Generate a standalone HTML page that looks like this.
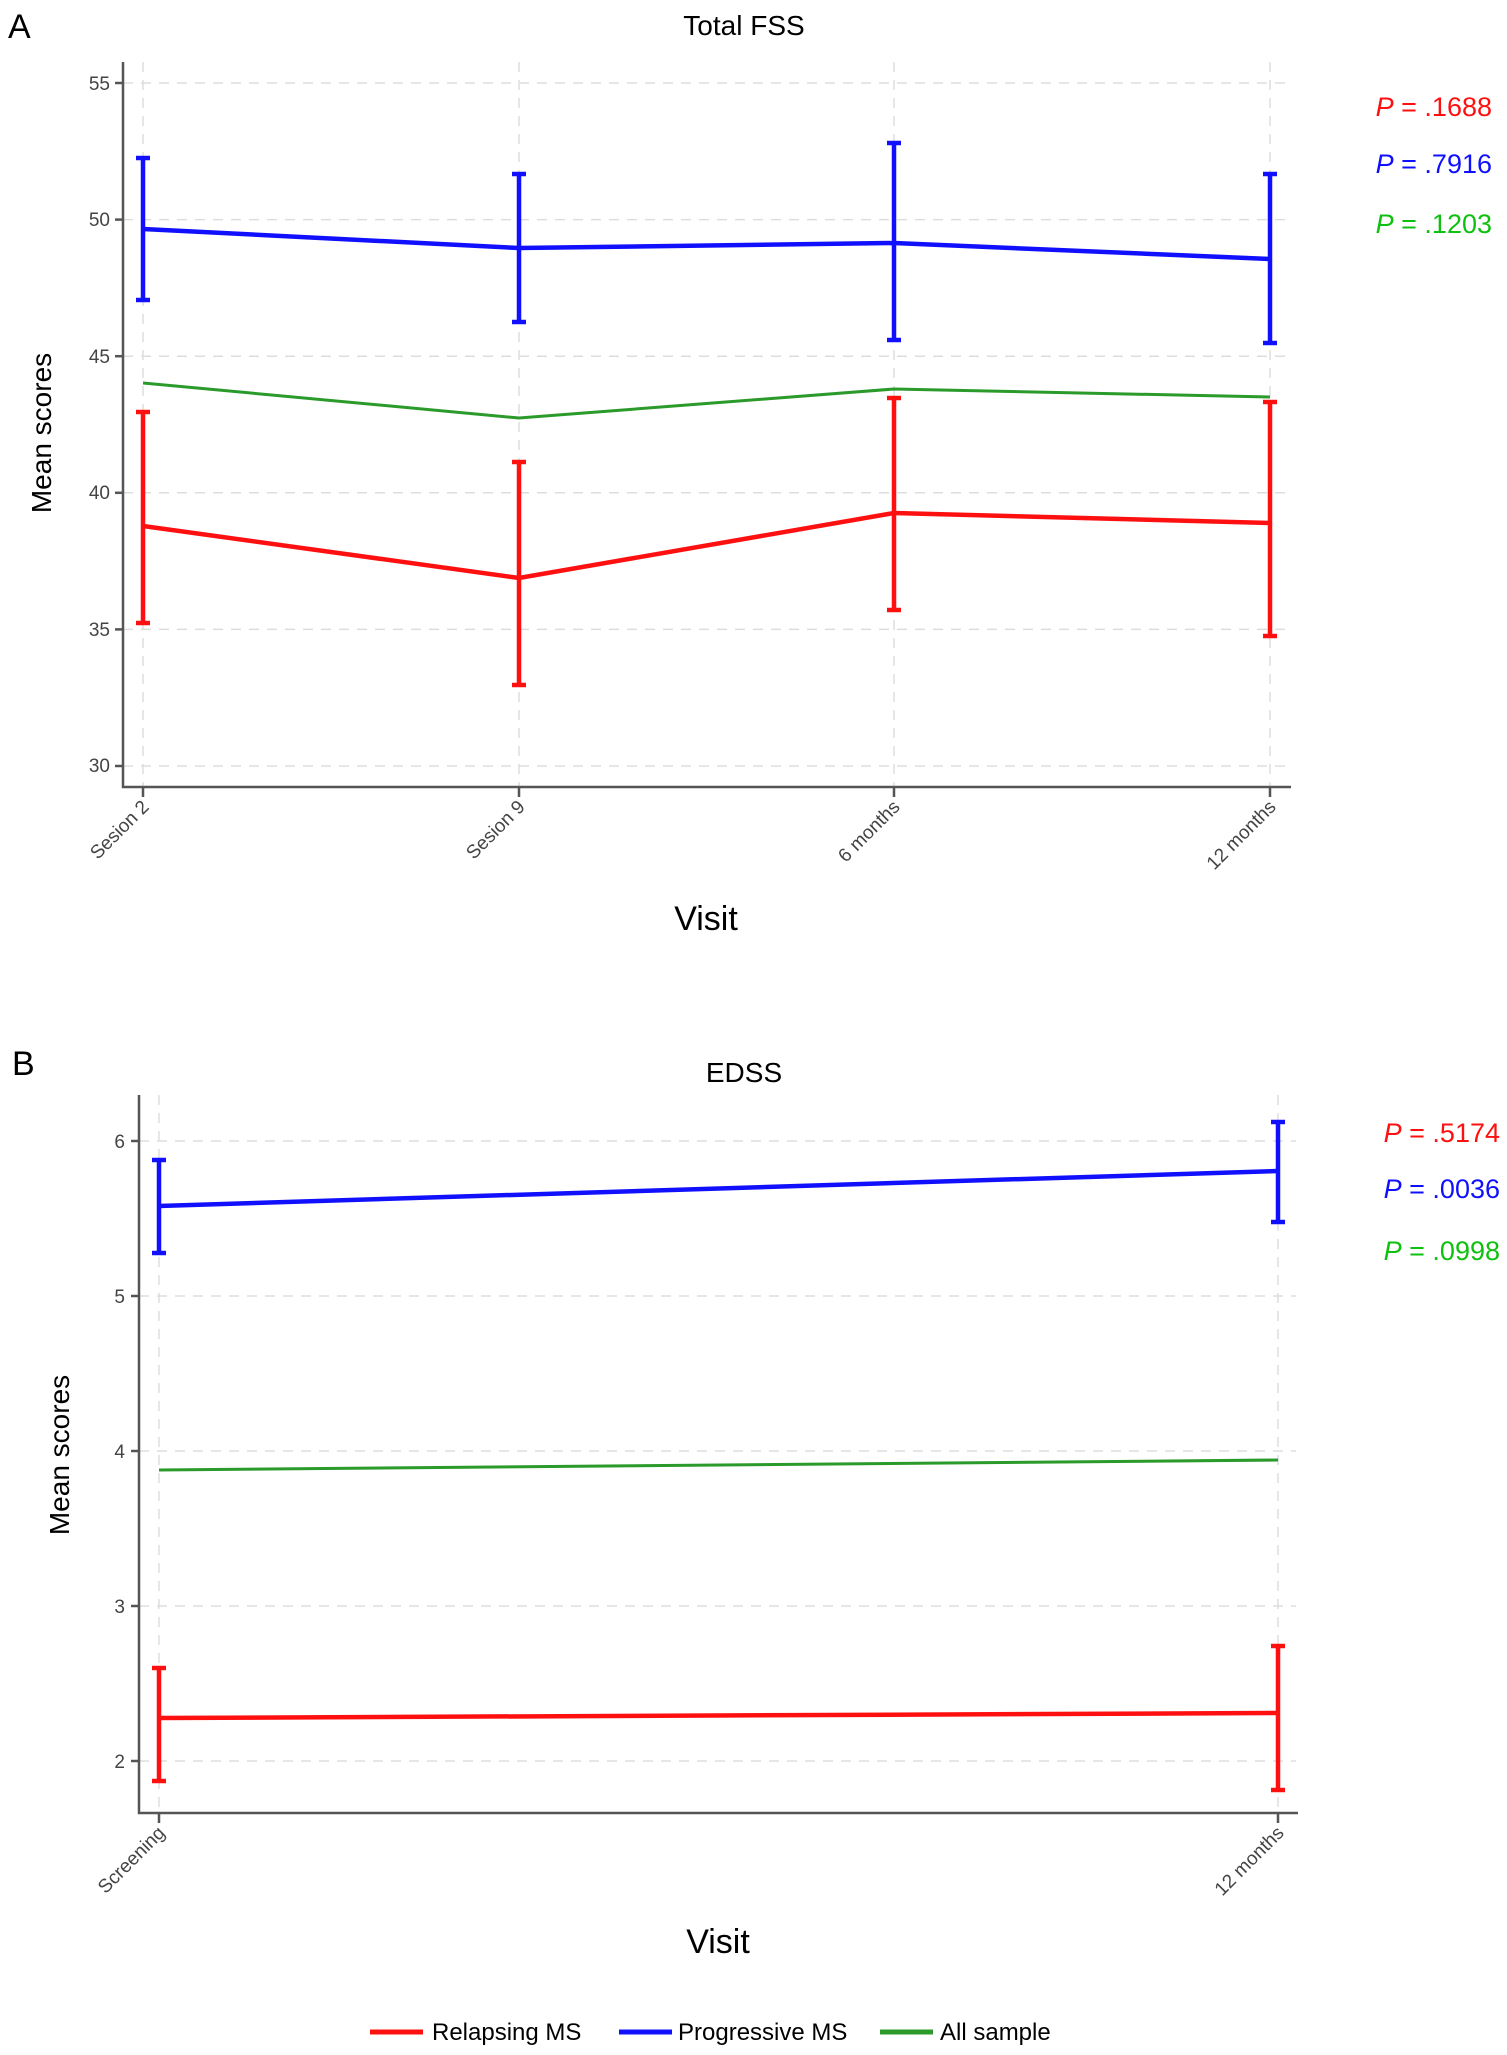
<!DOCTYPE html>
<html><head><meta charset="utf-8"><style>
html,body{margin:0;padding:0;background:#fff}
svg{display:block}
text{font-family:"Liberation Sans",Arial,sans-serif}
</style></head><body>
<svg width="1507" height="2055" viewBox="0 0 1507 2055" xmlns="http://www.w3.org/2000/svg">
<!-- Panel A -->
<text x="8" y="38" font-size="34">A</text>
<text x="744" y="35" font-size="28" text-anchor="middle">Total FSS</text>
<g stroke="#ddd" stroke-width="1.5" stroke-dasharray="10,8">
<line x1="123" x2="1290" y1="83" y2="83"/><line x1="123" x2="1290" y1="219.6" y2="219.6"/>
<line x1="123" x2="1290" y1="356.2" y2="356.2"/><line x1="123" x2="1290" y1="492.8" y2="492.8"/>
<line x1="123" x2="1290" y1="629.4" y2="629.4"/><line x1="123" x2="1290" y1="766" y2="766"/>
<line x1="143" x2="143" y1="62" y2="787"/><line x1="519" x2="519" y1="62" y2="787"/>
<line x1="894" x2="894" y1="62" y2="787"/><line x1="1270" x2="1270" y1="62" y2="787"/>
</g>
<g stroke="#555" stroke-width="2.5" fill="none"><polyline points="123,62 123,787 1291,787"/>
<line x1="115" x2="123" y1="83" y2="83"/><line x1="115" x2="123" y1="219.6" y2="219.6"/><line x1="115" x2="123" y1="356.2" y2="356.2"/><line x1="115" x2="123" y1="492.8" y2="492.8"/><line x1="115" x2="123" y1="629.4" y2="629.4"/><line x1="115" x2="123" y1="766" y2="766"/>
<line x1="143" x2="143" y1="787" y2="797"/><line x1="519" x2="519" y1="787" y2="797"/><line x1="894" x2="894" y1="787" y2="797"/><line x1="1270" x2="1270" y1="787" y2="797"/></g>
<g font-size="19" fill="#444" text-anchor="end">
<text x="110" y="90">55</text><text x="110" y="226">50</text><text x="110" y="363">45</text><text x="110" y="499">40</text><text x="110" y="636">35</text><text x="110" y="772">30</text></g>
<g font-size="19" fill="#444" text-anchor="end">
<text transform="translate(150,808) rotate(-45)">Sesion 2</text>
<text transform="translate(526,808) rotate(-45)">Sesion 9</text>
<text transform="translate(901,808) rotate(-45)">6 months</text>
<text transform="translate(1277,808) rotate(-45)">12 months</text></g>
<text x="706" y="930" font-size="34" text-anchor="middle">Visit</text>
<text transform="translate(51,433) rotate(-90)" font-size="28" text-anchor="middle">Mean scores</text>
<polyline fill="none" stroke="#2a9a2a" stroke-width="3" points="143,383 519,418 894,389 1270,397"/>
<g stroke="#1010ff" stroke-width="4.5" fill="none">
<polyline points="143,229 519,248 894,243 1270,259"/>
<line x1="143" x2="143" y1="158" y2="300"/><line x1="136" x2="150" y1="158" y2="158"/><line x1="136" x2="150" y1="300" y2="300"/>
<line x1="519" x2="519" y1="174" y2="322"/><line x1="512" x2="526" y1="174" y2="174"/><line x1="512" x2="526" y1="322" y2="322"/>
<line x1="894" x2="894" y1="143" y2="340"/><line x1="887" x2="901" y1="143" y2="143"/><line x1="887" x2="901" y1="340" y2="340"/>
<line x1="1270" x2="1270" y1="174" y2="343"/><line x1="1263" x2="1277" y1="174" y2="174"/><line x1="1263" x2="1277" y1="343" y2="343"/></g>
<g stroke="#ff1010" stroke-width="4.5" fill="none">
<polyline points="143,526 519,578 894,513 1270,523"/>
<line x1="143" x2="143" y1="412" y2="623"/><line x1="136" x2="150" y1="412" y2="412"/><line x1="136" x2="150" y1="623" y2="623"/>
<line x1="519" x2="519" y1="462" y2="685"/><line x1="512" x2="526" y1="462" y2="462"/><line x1="512" x2="526" y1="685" y2="685"/>
<line x1="894" x2="894" y1="398" y2="610"/><line x1="887" x2="901" y1="398" y2="398"/><line x1="887" x2="901" y1="610" y2="610"/>
<line x1="1270" x2="1270" y1="402" y2="636"/><line x1="1263" x2="1277" y1="402" y2="402"/><line x1="1263" x2="1277" y1="636" y2="636"/></g>
<g font-size="27" text-anchor="end">
<text x="1492" y="116" fill="#ff1010"><tspan font-style="italic">P</tspan> = .1688</text>
<text x="1492" y="173" fill="#1010ff"><tspan font-style="italic">P</tspan> = .7916</text>
<text x="1492" y="233" fill="#10c010"><tspan font-style="italic">P</tspan> = .1203</text></g>

<!-- Panel B -->
<text x="12" y="1075" font-size="34">B</text>
<text x="744" y="1082" font-size="28" text-anchor="middle">EDSS</text>
<g stroke="#ddd" stroke-width="1.5" stroke-dasharray="10,8">
<line x1="139" x2="1296" y1="1141" y2="1141"/><line x1="139" x2="1296" y1="1296" y2="1296"/>
<line x1="139" x2="1296" y1="1451" y2="1451"/><line x1="139" x2="1296" y1="1606" y2="1606"/>
<line x1="139" x2="1296" y1="1761" y2="1761"/>
<line x1="159" x2="159" y1="1095" y2="1813"/><line x1="1278" x2="1278" y1="1095" y2="1813"/></g>
<g stroke="#555" stroke-width="2.5" fill="none"><polyline points="139,1095 139,1813 1298,1813"/>
<line x1="131" x2="139" y1="1141" y2="1141"/><line x1="131" x2="139" y1="1296" y2="1296"/><line x1="131" x2="139" y1="1451" y2="1451"/><line x1="131" x2="139" y1="1606" y2="1606"/><line x1="131" x2="139" y1="1761" y2="1761"/>
<line x1="159" x2="159" y1="1813" y2="1823"/><line x1="1278" x2="1278" y1="1813" y2="1823"/></g>
<g font-size="19" fill="#444" text-anchor="end">
<text x="125" y="1148">6</text><text x="125" y="1303">5</text><text x="125" y="1458">4</text><text x="125" y="1613">3</text><text x="125" y="1768">2</text></g>
<g font-size="19" fill="#444" text-anchor="end">
<text transform="translate(166,1834) rotate(-45)">Screening</text>
<text transform="translate(1285,1834) rotate(-45)">12 months</text></g>
<text x="718" y="1953" font-size="34" text-anchor="middle">Visit</text>
<text transform="translate(69,1455) rotate(-90)" font-size="28" text-anchor="middle">Mean scores</text>
<line x1="159" y1="1470" x2="1278" y2="1460" stroke="#2a9a2a" stroke-width="3"/>
<g stroke="#1010ff" stroke-width="4.5" fill="none">
<line x1="159" y1="1206" x2="1278" y2="1171"/>
<line x1="159" x2="159" y1="1160" y2="1253"/><line x1="152" x2="166" y1="1160" y2="1160"/><line x1="152" x2="166" y1="1253" y2="1253"/>
<line x1="1278" x2="1278" y1="1122" y2="1222"/><line x1="1271" x2="1285" y1="1122" y2="1122"/><line x1="1271" x2="1285" y1="1222" y2="1222"/></g>
<g stroke="#ff1010" stroke-width="4.5" fill="none">
<line x1="159" y1="1718" x2="1278" y2="1713"/>
<line x1="159" x2="159" y1="1668" y2="1781"/><line x1="152" x2="166" y1="1668" y2="1668"/><line x1="152" x2="166" y1="1781" y2="1781"/>
<line x1="1278" x2="1278" y1="1646" y2="1790"/><line x1="1271" x2="1285" y1="1646" y2="1646"/><line x1="1271" x2="1285" y1="1790" y2="1790"/></g>
<g font-size="27" text-anchor="end">
<text x="1500" y="1142" fill="#ff1010"><tspan font-style="italic">P</tspan> = .5174</text>
<text x="1500" y="1198" fill="#1010ff"><tspan font-style="italic">P</tspan> = .0036</text>
<text x="1500" y="1260" fill="#10c010"><tspan font-style="italic">P</tspan> = .0998</text></g>

<!-- Legend -->
<g stroke-width="5"><line x1="370" x2="423" y1="2032" y2="2032" stroke="#ff1010"/>
<line x1="619" x2="672" y1="2032" y2="2032" stroke="#1010ff"/>
<line x1="880" x2="933" y1="2032" y2="2032" stroke="#2a9a2a"/></g>
<g font-size="24"><text x="432" y="2040">Relapsing MS</text><text x="678" y="2040">Progressive MS</text><text x="940" y="2040">All sample</text></g>
</svg>
</body></html>
